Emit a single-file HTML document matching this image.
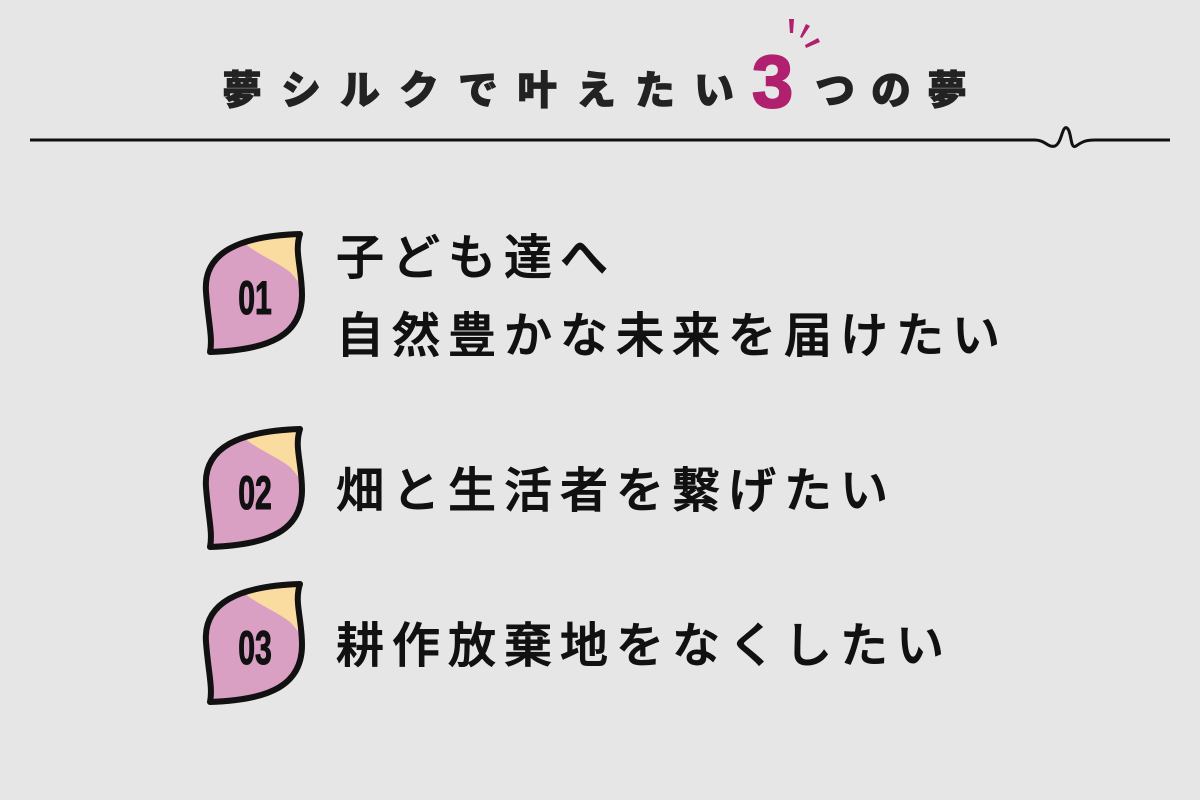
<!DOCTYPE html>
<html><head><meta charset="utf-8"><style>
html,body{margin:0;padding:0;background:#e6e6e6;}
svg{display:block}
text{font-family:"Liberation Sans","Noto Sans CJK JP",sans-serif;}
</style></head><body>
<svg width="1200" height="800" viewBox="0 0 1200 800" xmlns="http://www.w3.org/2000/svg">
<rect width="1200" height="800" fill="#e6e6e6"/>
<defs>
<clipPath id="leaf"><path d="M300,234 C240,236 203,252 206,292 C208,320 213,338 210,352 C270,350 302,335 302,295 C302,268 294,252 300,234 Z"/></clipPath>
<g id="badge">
<g clip-path="url(#leaf)">
<rect x="200" y="225" width="110" height="135" fill="#d9a0c4"/>
<path d="M232,230 C248,252 272,258 290,272 C298,280 302,288 306,294 L310,225 Z" fill="#fbdca0"/>
</g>
<path d="M300,234 C240,236 203,252 206,292 C208,320 213,338 210,352 C270,350 302,335 302,295 C302,268 294,252 300,234 Z" fill="none" stroke="#111" stroke-width="6" stroke-linejoin="round"/>
</g>
</defs>
<g font-weight="900" font-size="40" fill="#222">
<text x="222" y="104" letter-spacing="19" stroke="#222" stroke-width="0.8">夢シルクで叶えたい</text>
<text x="752" y="107" font-size="74" font-weight="bold" fill="#b0206e" stroke="#b0206e" stroke-width="2" font-family="Liberation Sans,sans-serif">3</text>
<text x="815" y="104" letter-spacing="16" stroke="#222" stroke-width="0.8">つの夢</text>
</g>
<g fill="#b0206e">
<path d="M789,19 l5,0 l-1,14 l-3,0 Z"/>
<path d="M806,24 l4,2 l-8,12 l-2,-1 Z"/>
<path d="M818,38 l2,4 l-14,6 l-1,-3 Z"/>
</g>
<path d="M30,140 L1035,140 C1045,140 1048,148 1055,146 C1062,143 1062,125 1067,128 C1072,132 1070,150 1076,146 C1082,142 1085,140 1095,140 L1170,140" fill="none" stroke="#111" stroke-width="3"/>
<use href="#badge"/>
<use href="#badge" transform="translate(0,195)"/>
<use href="#badge" transform="translate(0,350)"/>
<g font-weight="bold" font-size="42" fill="#111" font-family="Liberation Sans,sans-serif" text-anchor="middle" stroke="#111" stroke-width="1">
<text transform="translate(255,314) scale(0.72,1.12)">01</text>
<text transform="translate(255,509) scale(0.72,1.12)">02</text>
<text transform="translate(255,664) scale(0.72,1.12)">03</text>
</g>
<g font-size="48" fill="#111" font-weight="500" letter-spacing="8" stroke="#111" stroke-width="0.9">
<text x="336" y="274">子ども達へ</text>
<text x="336" y="352">自然豊かな未来を届けたい</text>
<text x="336" y="507">畑と生活者を繋げたい</text>
<text x="336" y="662">耕作放棄地をなくしたい</text>
</g>
</svg>
</body></html>
